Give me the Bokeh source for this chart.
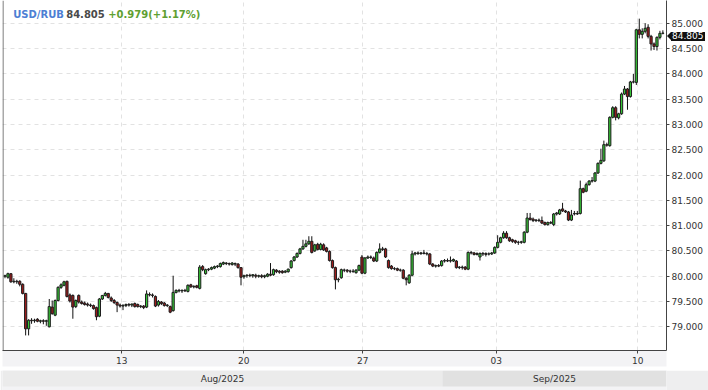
from bokeh.plotting import figure
from bokeh.models import Range1d, FixedTicker, NumeralTickFormatter, Label, Span, ColumnDataSource, Div
from bokeh.layouts import column
from bokeh.core.properties import value
from bokeh.embed import file_html
from bokeh.resources import INLINE

opens = [80.00, 79.98, 80.05, 79.89, 79.90, 79.90, 79.84, 79.66, 78.96, 79.13,
         79.12, 79.15, 79.11, 79.12, 79.11, 79.00, 79.39, 79.23, 79.52, 79.78,
         79.82, 79.90, 79.63, 79.62, 79.40, 79.62, 79.49, 79.47, 79.45, 79.43,
         79.42, 79.38, 79.21, 79.55, 79.62, 79.66, 79.57, 79.52, 79.48, 79.43,
         79.41, 79.42, 79.44, 79.43, 79.46, 79.44, 79.40, 79.41, 79.39, 79.64,
         79.63, 79.60, 79.43, 79.49, 79.47, 79.42, 79.40, 79.32, 79.68, 79.72,
         79.71, 79.72, 79.70, 79.83, 79.79, 79.81, 79.76, 80.19, 80.05, 80.13,
         80.14, 80.16, 80.19, 80.19, 80.24, 80.26, 80.25, 80.23, 80.25, 80.24,
         80.17, 79.99, 80.01, 80.02, 80.01, 80.02, 80.00, 80.01, 79.99, 80.00,
         80.04, 80.03, 80.12, 80.10, 80.10, 80.08, 80.09, 80.17, 80.31, 80.38,
         80.45, 80.54, 80.59, 80.64, 80.69, 80.50, 80.63, 80.53, 80.62, 80.56,
         80.49, 80.31, 80.17, 79.93, 79.97, 80.12, 80.12, 80.10, 80.10, 80.07,
         80.12, 80.38, 80.06, 80.36, 80.38, 80.36, 80.30, 80.47, 80.54, 80.54,
         80.31, 80.20, 80.15, 80.15, 80.12, 80.12, 79.96, 79.87, 80.02, 80.44,
         80.46, 80.45, 80.46, 80.45, 80.44, 80.24, 80.20, 80.21, 80.21, 80.30,
         80.31, 80.30, 80.30, 80.30, 80.17, 80.18, 80.18, 80.14, 80.47, 80.46,
         80.43, 80.38, 80.45, 80.45, 80.44, 80.44, 80.46, 80.57, 80.67, 80.76,
         80.85, 80.76, 80.72, 80.70, 80.67, 80.67, 80.67, 80.87, 81.15, 81.13,
         81.10, 81.11, 81.10, 81.06, 81.02, 81.06, 81.02, 81.23, 81.23, 81.33,
         81.29, 81.27, 81.11, 81.23, 81.24, 81.24, 81.73, 81.68, 81.81, 81.88,
         81.88, 82.04, 82.23, 82.28, 82.60, 82.58, 83.14, 83.33, 83.13, 83.21,
         83.60, 83.70, 83.55, 83.84, 83.83, 84.87, 84.78, 84.84, 84.92, 84.74,
         84.59, 84.54, 84.72, 84.80]
highs = [80.03, 80.07, 80.06, 79.96, 79.93, 79.92, 79.86, 79.67, 79.15, 79.17,
         79.16, 79.17, 79.14, 79.15, 79.14, 79.55, 79.52, 79.54, 79.80, 79.86,
         79.91, 79.91, 79.66, 79.64, 79.54, 79.64, 79.52, 79.50, 79.48, 79.46,
         79.44, 79.40, 79.57, 79.63, 79.69, 79.67, 79.60, 79.55, 79.50, 79.46,
         79.45, 79.46, 79.47, 79.46, 79.48, 79.46, 79.43, 79.43, 79.72, 79.68,
         79.66, 79.62, 79.53, 79.51, 79.49, 79.45, 79.42, 80.01, 79.74, 79.75,
         79.74, 79.75, 79.84, 79.85, 79.82, 79.83, 80.22, 80.22, 80.15, 80.16,
         80.19, 80.21, 80.22, 80.27, 80.29, 80.28, 80.27, 80.28, 80.27, 80.26,
         80.18, 80.03, 80.04, 80.05, 80.04, 80.05, 80.03, 80.04, 80.03, 80.06,
         80.26, 80.15, 80.14, 80.12, 80.12, 80.12, 80.15, 80.32, 80.40, 80.47,
         80.56, 80.72, 80.72, 80.79, 80.79, 80.64, 80.66, 80.66, 80.65, 80.58,
         80.51, 80.33, 80.19, 79.97, 80.15, 80.15, 80.14, 80.13, 80.14, 80.14,
         80.23, 80.42, 80.38, 80.41, 80.41, 80.39, 80.49, 80.65, 80.58, 80.56,
         80.33, 80.22, 80.18, 80.17, 80.15, 80.14, 79.98, 80.04, 80.50, 80.48,
         80.49, 80.48, 80.52, 80.48, 80.46, 80.26, 80.23, 80.24, 80.32, 80.34,
         80.35, 80.39, 80.35, 80.32, 80.20, 80.21, 80.20, 80.49, 80.50, 80.48,
         80.47, 80.47, 80.48, 80.47, 80.47, 80.48, 80.59, 80.81, 80.78, 80.89,
         80.89, 80.78, 80.74, 80.72, 80.70, 80.70, 80.89, 81.25, 81.25, 81.16,
         81.13, 81.14, 81.18, 81.08, 81.08, 81.09, 81.25, 81.27, 81.33, 81.45,
         81.31, 81.29, 81.31, 81.29, 81.29, 81.89, 81.75, 81.85, 81.90, 81.96,
         82.06, 82.25, 82.52, 82.68, 82.64, 83.16, 83.36, 83.36, 83.23, 83.63,
         83.76, 83.72, 83.86, 84.00, 84.89, 85.09, 84.90, 85.00, 84.98, 84.77,
         84.62, 84.74, 84.85, 84.86]
lows = [79.96, 79.95, 79.87, 79.86, 79.85, 79.80, 79.64, 78.83, 78.83, 79.06,
        79.08, 79.09, 79.07, 79.05, 79.02, 78.99, 79.24, 79.21, 79.50, 79.75,
        79.80, 79.58, 79.48, 79.16, 79.37, 79.46, 79.44, 79.42, 79.40, 79.39,
        79.34, 79.13, 79.19, 79.53, 79.60, 79.56, 79.49, 79.45, 79.29, 79.38,
        79.33, 79.39, 79.40, 79.39, 79.38, 79.38, 79.37, 79.35, 79.37, 79.60,
        79.58, 79.39, 79.40, 79.43, 79.40, 79.39, 79.27, 79.30, 79.66, 79.68,
        79.67, 79.69, 79.68, 79.77, 79.76, 79.76, 79.74, 80.10, 80.03, 80.10,
        80.12, 80.14, 80.16, 80.17, 80.22, 80.22, 80.21, 80.21, 80.20, 80.15,
        79.82, 79.95, 79.97, 79.98, 79.97, 79.96, 79.97, 79.96, 79.96, 79.98,
        80.00, 80.01, 80.06, 80.05, 80.05, 80.06, 80.07, 80.15, 80.29, 80.36,
        80.43, 80.52, 80.57, 80.62, 80.45, 80.48, 80.51, 80.51, 80.50, 80.47,
        80.29, 80.15, 79.74, 79.88, 79.95, 80.08, 80.07, 80.06, 80.07, 80.05,
        80.10, 80.04, 80.04, 80.34, 80.34, 80.28, 80.28, 80.45, 80.50, 80.36,
        80.15, 80.13, 80.12, 80.10, 80.09, 79.94, 79.82, 79.85, 80.00, 80.41,
        80.42, 80.42, 80.43, 80.41, 80.22, 80.18, 80.17, 80.18, 80.19, 80.27,
        80.28, 80.27, 80.28, 80.15, 80.14, 80.13, 80.12, 80.12, 80.43, 80.41,
        80.41, 80.31, 80.40, 80.39, 80.41, 80.42, 80.44, 80.55, 80.65, 80.74,
        80.74, 80.68, 80.66, 80.64, 80.62, 80.64, 80.65, 80.85, 81.10, 81.07,
        81.07, 81.07, 81.03, 81.00, 81.00, 81.03, 80.99, 81.20, 81.21, 81.27,
        81.25, 81.09, 81.09, 81.20, 81.21, 81.22, 81.64, 81.66, 81.79, 81.85,
        81.86, 82.02, 82.21, 82.26, 82.56, 82.56, 83.12, 83.08, 83.10, 83.19,
        83.58, 83.29, 83.53, 83.81, 83.78, 84.70, 84.70, 84.80, 84.70, 84.46,
        84.47, 84.46, 84.68, 84.78]
closes = [80.01, 80.05, 79.89, 79.90, 79.89, 79.84, 79.66, 78.96, 79.13, 79.12,
          79.13, 79.11, 79.12, 79.11, 79.12, 79.40, 79.26, 79.52, 79.78, 79.83,
          79.89, 79.60, 79.51, 79.39, 79.52, 79.49, 79.46, 79.44, 79.43, 79.42,
          79.36, 79.20, 79.55, 79.62, 79.66, 79.58, 79.52, 79.48, 79.43, 79.41,
          79.42, 79.44, 79.43, 79.45, 79.40, 79.40, 79.41, 79.38, 79.65, 79.63,
          79.62, 79.41, 79.50, 79.46, 79.42, 79.43, 79.29, 79.68, 79.72, 79.71,
          79.72, 79.71, 79.82, 79.79, 79.80, 79.78, 80.18, 80.13, 80.13, 80.14,
          80.17, 80.19, 80.20, 80.25, 80.27, 80.25, 80.24, 80.26, 80.24, 80.17,
          79.98, 80.01, 80.02, 80.01, 80.03, 80.00, 80.01, 79.99, 80.01, 80.04,
          80.02, 80.13, 80.09, 80.08, 80.07, 80.10, 80.14, 80.30, 80.38, 80.45,
          80.54, 80.59, 80.64, 80.69, 80.47, 80.62, 80.53, 80.63, 80.52, 80.49,
          80.31, 80.17, 79.93, 79.94, 80.13, 80.12, 80.10, 80.10, 80.09, 80.12,
          80.21, 80.06, 80.36, 80.38, 80.37, 80.30, 80.47, 80.54, 80.53, 80.38,
          80.17, 80.15, 80.15, 80.12, 80.12, 79.96, 79.93, 80.02, 80.44, 80.46,
          80.45, 80.46, 80.45, 80.44, 80.24, 80.20, 80.21, 80.20, 80.30, 80.31,
          80.30, 80.31, 80.33, 80.17, 80.18, 80.17, 80.14, 80.47, 80.46, 80.43,
          80.45, 80.45, 80.44, 80.43, 80.44, 80.46, 80.57, 80.67, 80.76, 80.85,
          80.76, 80.70, 80.69, 80.67, 80.67, 80.68, 80.87, 81.15, 81.12, 81.10,
          81.11, 81.10, 81.05, 81.02, 81.06, 81.05, 81.23, 81.25, 81.31, 81.29,
          81.27, 81.11, 81.21, 81.24, 81.23, 81.73, 81.66, 81.81, 81.88, 81.89,
          82.04, 82.23, 82.29, 82.60, 82.59, 83.14, 83.33, 83.14, 83.21, 83.60,
          83.70, 83.55, 83.84, 83.84, 84.87, 84.78, 84.84, 84.90, 84.74, 84.59,
          84.54, 84.72, 84.80, 84.805]

day_ticks = [39.6, 80.9, 121.3, 166.5, 214.5]
day_labels = ["13", "20", "27", "03", "10"]
price_ticks = [79.0, 79.5, 80.0, 80.5, 81.0, 81.5, 82.0, 82.5, 83.0, 83.5, 84.0, 84.5, 85.0]
months = ["Aug/2025", "Sep/2025"]
month_start = [-0.85, 148.3]
month_end = [148.3, 224.23]
symbol = "USD/RUB"
last_price = "84.805"
change = "+0.979(+1.17%)"

GREEN = "#36c436"
RED = "#9e1b1b"
EDGE = "#1e1e1e"
FONT = "DejaVu Sans"

n = len(closes)
idx = list(range(n))
src = ColumnDataSource(dict(
    x=idx, h=highs, l=lows,
    top=[max(o, c) for o, c in zip(opens, closes)],
    bottom=[min(o, c) for o, c in zip(opens, closes)],
    color=[GREEN if c >= o else RED for o, c in zip(opens, closes)],
))

X0, X1 = -0.847, 224.23
xr = Range1d(X0, X1)
p = figure(width=708, height=370, x_range=xr, y_range=Range1d(78.532, 85.449),
           y_axis_location="right", output_backend="svg", toolbar_location=None,
           min_border_left=2, min_border_right=42, min_border_top=0, min_border_bottom=20)
p.outline_line_color = None
p.background_fill_color = "white"
p.border_fill_color = "white"

p.segment(x0="x", y0="h", x1="x", y1="l", source=src, line_color="#111111", line_width=1)
p.vbar(x="x", width=0.75, top="top", bottom="bottom", source=src,
       fill_color="color", line_color=EDGE, line_width=1)

# axes
p.xaxis.ticker = FixedTicker(ticks=day_ticks)
p.xaxis.major_label_overrides = {t: s for t, s in zip(day_ticks, day_labels)}
p.yaxis.ticker = FixedTicker(ticks=price_ticks)
p.yaxis.formatter = NumeralTickFormatter(format="0.000")
for ax in (p.xaxis, p.yaxis):
    ax.axis_line_color = "#444444"
    ax.major_tick_line_color = "#444444"
    ax.major_tick_out = 3
    ax.major_tick_in = 0
    ax.minor_tick_line_color = None
    ax.major_label_text_font = FONT
    ax.major_label_text_font_size = "9px"
    ax.major_label_text_color = "#333333"
p.yaxis.major_label_standoff = 2
p.xaxis.major_label_standoff = 3
xa = p.xaxis[0]
if "background_fill_color" in xa.properties():
    xa.background_fill_color = "#f3f3f5"

p.xgrid.grid_line_color = "#e2e2e2"
p.xgrid.grid_line_dash = "4 4"
p.ygrid.grid_line_color = "#e2e2e2"
p.ygrid.grid_line_dash = "4 4"

p.add_layout(Span(location=X0 + 0.5 / 2.95, dimension="height", line_color="#555555", line_width=1))

# header
p.add_layout(Label(x=10.7, y=336.5, x_units="screen", y_units="screen", text=symbol,
                   text_font=FONT, text_font_style="bold", text_font_size="10px",
                   text_color="#4d7fd4", text_baseline="middle"))
p.add_layout(Label(x=63.7, y=336.5, x_units="screen", y_units="screen", text=last_price,
                   text_font=FONT, text_font_style="bold", text_font_size="10px",
                   text_color="#4a4a4a", text_baseline="middle"))
p.add_layout(Label(x=105.7, y=336.5, x_units="screen", y_units="screen", text=change,
                   text_font=FONT, text_font_style="bold", text_font_size="10px",
                   text_color="#5fa032", text_baseline="middle"))

# month band strip (frame aligned with the main chart by the column layout)
p2 = figure(width=708, height=20, x_range=xr, y_range=Range1d(0, 20),
            x_axis_type=None, y_axis_type=None, output_backend="svg", toolbar_location=None,
            min_border_left=2, min_border_right=42, min_border_top=0, min_border_bottom=0)
p2.outline_line_color = None
p2.background_fill_color = "#f3f3f5"
p2.border_fill_color = "#eeeeef"
p2.quad(left=month_start, right=month_end, bottom=4, top=20, fill_color=["#ebebeb", "#e1e1e1"], line_color=None)
p2.text(x=[(a + b) / 2 for a, b in zip(month_start, month_end)], y=[12] * len(months), text=months,
        text_font=value(FONT), text_font_size="9px", text_color="#333333",
        text_align="center", text_baseline="middle")

# last-price tag over the right axis (outside the plot frame, so drawn as an overlay)
tag_html = (
    '<div style="display:flex;align-items:center;height:9px;">'
    '<span style="display:inline-block;width:0;height:0;border-top:4.5px solid transparent;'
    'border-bottom:4.5px solid transparent;border-right:4px solid #111;"></span>'
    '<span style="display:inline-block;background:#111;color:#fff;font-family:\'DejaVu Sans\';'
    'font-size:9px;line-height:9px;height:9px;padding:0 1px;">' + last_price + '</span></div>'
)
tag = Div(text=tag_html, width=40, height=9,
          styles={"position": "absolute", "left": "667px", "top": "28px", "z-index": "10",
                  "margin": "0", "padding": "0"})

layout = column(p, p2, tag, spacing=0)
open("out.html", "w").write(file_html(layout, INLINE))
